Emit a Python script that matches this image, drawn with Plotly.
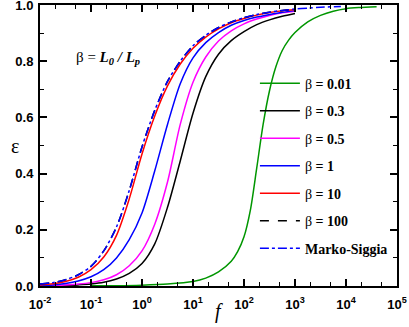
import plotly.graph_objects as go

# ---- data ----
LOGF_MAIN = [-2, -1.75, -1.5, -1.25, -1, -0.75, -0.5, -0.25, 0, 0.25, 0.5, 0.75,
             1, 1.25, 1.5, 1.75, 2, 2.25, 2.5, 2.75, 3]
EPS_B03 = [0.0005, 0.001, 0.002, 0.004, 0.007, 0.013, 0.025, 0.045, 0.08, 0.15, 0.28, 0.445,
           0.615, 0.745, 0.825, 0.873, 0.905, 0.93, 0.947, 0.96, 0.97]
EPS_B05 = [0.001, 0.002, 0.004, 0.007, 0.012, 0.022, 0.04, 0.072, 0.125, 0.22, 0.37, 0.575,
           0.725, 0.815, 0.872, 0.908, 0.933, 0.95, 0.963, 0.972, 0.978]
EPS_B1 = [0.002, 0.004, 0.009, 0.018, 0.033, 0.058, 0.10, 0.165, 0.26, 0.41, 0.575, 0.72,
          0.812, 0.866, 0.902, 0.928, 0.945, 0.957, 0.966, 0.974, 0.98]
EPS_B10 = [0.004, 0.008, 0.016, 0.031, 0.058, 0.103, 0.18, 0.31, 0.47, 0.605, 0.712, 0.79,
           0.846, 0.886, 0.915, 0.937, 0.952, 0.964, 0.973, 0.9795, 0.984]
EPS_B100 = [0.007, 0.012, 0.022, 0.04, 0.07, 0.125, 0.21, 0.34, 0.495, 0.625, 0.728, 0.80,
            0.855, 0.892, 0.92, 0.94, 0.955, 0.966, 0.9745, 0.9805, 0.9855]

LOGF_MS = [-2, -1.75, -1.5, -1.25, -1, -0.75, -0.5, -0.25, 0, 0.25, 0.5, 0.75,
           1, 1.25, 1.5, 1.75, 2, 2.25, 2.5, 2.75, 3, 3.25, 3.5, 3.9]
EPS_MS = [0.007, 0.012, 0.022, 0.04, 0.07, 0.125, 0.21, 0.34, 0.495, 0.625, 0.728, 0.80,
          0.855, 0.892, 0.92, 0.94, 0.955, 0.966, 0.9745, 0.9805, 0.9855, 0.989, 0.992, 0.9948]

LOGF_B001 = [-1, -0.5, 0, 0.5, 1.0, 1.25, 1.5, 1.75, 1.875, 2.0, 2.125, 2.25, 2.375, 2.5,
             2.625, 2.75, 2.875, 3.0, 3.25, 3.5, 3.75, 4.0, 4.25, 4.6]
EPS_B001 = [0.0005, 0.001, 0.003, 0.007, 0.016, 0.028, 0.05, 0.088, 0.122, 0.175, 0.27, 0.42,
            0.575, 0.695, 0.78, 0.838, 0.875, 0.902, 0.94, 0.963, 0.978, 0.987, 0.991, 0.994]

SERIES = [
    ("β<b> = 0.01</b>", LOGF_B001, EPS_B001, "rgb(0,150,0)", "solid"),
    ("β<b> = 0.3</b>", LOGF_MAIN, EPS_B03, "black", "solid"),
    ("β<b> = 0.5</b>", LOGF_MAIN, EPS_B05, "#ff00ff", "solid"),
    ("β<b> = 1</b>", LOGF_MAIN, EPS_B1, "#0000ff", "solid"),
    ("β<b> = 10</b>", LOGF_MAIN, EPS_B10, "#ff0000", "solid"),
    ("β<b> = 100</b>", LOGF_MAIN, EPS_B100, "black", "dash"),
    ("<b>Marko-Siggia</b>", LOGF_MS, EPS_MS, "#0000ff", "dashdot"),
]

X_TICK_EXP = [-2, -1, 0, 1, 2, 3, 4, 5]
X_TICK_TEXT = [f"10<sup>{e}</sup>" for e in X_TICK_EXP]
Y_TICKS = [0.0, 0.2, 0.4, 0.6, 0.8, 1.0]

SERIF = "Liberation Serif, Times New Roman, serif"
SANS = "Liberation Sans, Arial, sans-serif"

fig = go.Figure()
for i, (name, lf, ey, col, dash) in enumerate(SERIES):
    fig.add_trace(go.Scatter(
        x=[10 ** v for v in lf], y=ey, mode="lines", name=name,
        legendgroup=f"g{i}",
        line=dict(color=col, width=1.5, dash=dash, shape="spline", smoothing=0.8),
    ))

fig.add_annotation(
    text="β = <b><i>L</i><sub><i>0</i></sub><i> / L</i><sub><i>p</i></sub></b>",
    xref="paper", yref="paper", x=0.096, y=0.812, xanchor="left", yanchor="middle",
    showarrow=False, font=dict(family=SERIF, size=15, color="black"),
)
# axis titles as annotations for precise placement
fig.add_annotation(
    text="ε", xref="paper", yref="paper", x=0, y=0.5, xshift=-25,
    xanchor="center", yanchor="middle", showarrow=False,
    font=dict(family=SERIF, size=20, color="black"),
)
fig.add_annotation(
    text="<i>f</i>", xref="paper", yref="paper", x=0.5, y=0, yshift=-25,
    xanchor="center", yanchor="middle", showarrow=False,
    font=dict(family=SERIF, size=20, color="black"),
)

fig.update_layout(
    width=409, height=327,
    margin=dict(l=40, r=12, t=5, b=41),
    paper_bgcolor="white", plot_bgcolor="white",
    showlegend=True,
    legend=dict(
        x=0.602, y=0.777, xanchor="left", yanchor="top",
        bgcolor="rgba(0,0,0,0)", borderwidth=0, itemwidth=40,
        font=dict(family=SERIF, size=14, color="black"),
        traceorder="grouped", tracegroupgap=6.3,
    ),
    xaxis=dict(
        type="log", range=[-2, 5], automargin=False,
        tickvals=[10 ** e for e in X_TICK_EXP], ticktext=X_TICK_TEXT,
        ticks="inside", ticklen=7, tickwidth=1.5, tickcolor="black",
        ticklabeloverflow="allow", ticklabelstandoff=5,
        showline=True, linewidth=2, linecolor="black", mirror="allticks",
        showgrid=False, zeroline=False,
        tickfont=dict(family=SANS, size=13, color="black", weight="bold"),
        minor=dict(ticks="inside", ticklen=4, tickwidth=1, tickcolor="black", showgrid=False),
    ),
    yaxis=dict(
        range=[0, 1.0], tickvals=Y_TICKS, tickformat=".1f", automargin=False,
        ticks="inside", ticklen=7, tickwidth=1.5, tickcolor="black",
        ticklabeloverflow="allow", ticklabelstandoff=2,
        showline=True, linewidth=2, linecolor="black", mirror="allticks",
        showgrid=False, zeroline=False,
        tickfont=dict(family=SANS, size=13, color="black", weight="bold"),
        minor=dict(dtick=0.1, ticks="inside", ticklen=4, tickwidth=1, tickcolor="black", showgrid=False),
    ),
)

fig.write_html("out.html", config={"displayModeBar": False},
               post_script="document.body.style.margin='0';")
